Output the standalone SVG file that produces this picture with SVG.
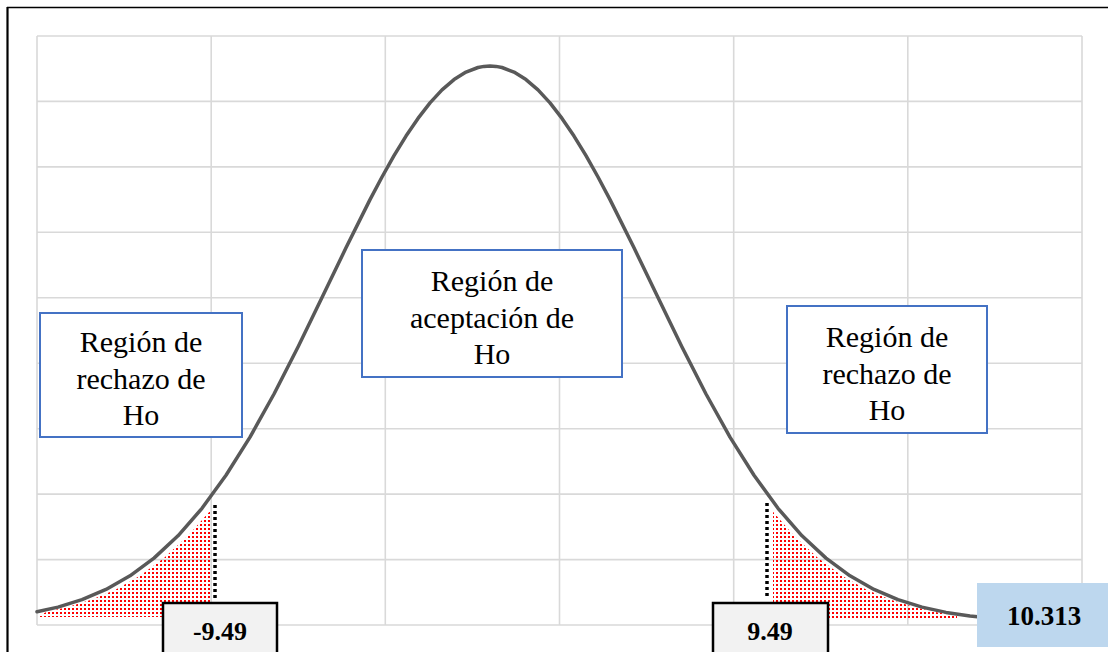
<svg xmlns="http://www.w3.org/2000/svg" width="1108" height="652" viewBox="0 0 1108 652">
<style>
.grid{stroke:#D9D9D9;stroke-width:1.6;fill:none}
.curve{stroke:#595959;stroke-width:3.5;fill:none;stroke-linejoin:round;stroke-linecap:round}
.vline{stroke:#000;stroke-width:3.5;stroke-dasharray:3 3;fill:none}
.tail{fill:url(#dots)}
.region{fill:#FFFFFF;stroke:#4472C4;stroke-width:2}
.crit{fill:#F2F2F2;stroke:#000;stroke-width:2.5}
.stat{fill:#BDD7EE}
.lbl{font-family:"Liberation Serif","Times New Roman",serif;font-size:30px;fill:#000;text-anchor:middle}
.num{font-family:"Liberation Serif","Times New Roman",serif;font-size:26px;font-weight:bold;fill:#000;text-anchor:middle}
</style>
<defs>
<pattern id="dots" width="4" height="4" patternUnits="userSpaceOnUse">
<rect x="0" y="0" width="2" height="2" fill="#FF0000"/>
</pattern>
</defs>
<rect x="0" y="0" width="1108" height="652" fill="#FFFFFF"/>
<g id="frame">
<line x1="7" y1="7.5" x2="1108" y2="7.5" stroke="#000" stroke-width="1.6"/>
<line x1="7.5" y1="7" x2="7.5" y2="652" stroke="#000" stroke-width="2.2"/>
</g>
<g id="grid" class="grid">
<line x1="37" y1="36" x2="1082" y2="36"/>
<line x1="37" y1="101.4" x2="1082" y2="101.4"/>
<line x1="37" y1="166.9" x2="1082" y2="166.9"/>
<line x1="37" y1="232.3" x2="1082" y2="232.3"/>
<line x1="37" y1="297.8" x2="1082" y2="297.8"/>
<line x1="37" y1="363.2" x2="1082" y2="363.2"/>
<line x1="37" y1="428.7" x2="1082" y2="428.7"/>
<line x1="37" y1="494.1" x2="1082" y2="494.1"/>
<line x1="37" y1="559.6" x2="1082" y2="559.6"/>
<line x1="37" y1="625" x2="1082" y2="625"/>
<line x1="37" y1="36" x2="37" y2="625"/>
<line x1="211.2" y1="36" x2="211.2" y2="625"/>
<line x1="385.3" y1="36" x2="385.3" y2="625"/>
<line x1="559.5" y1="36" x2="559.5" y2="625"/>
<line x1="733.7" y1="36" x2="733.7" y2="625"/>
<line x1="907.8" y1="36" x2="907.8" y2="625"/>
<line x1="1082" y1="36" x2="1082" y2="625"/>
</g>
<g id="connectors">
<polygon id="left-tail" class="tail" points="40,615 47,611.8 68,607 92,599.6 116,589.4 140,575.8 164,558 188,535.8 211,510 211,617 40,617"/>
<polygon id="right-tail" class="tail" points="773,511.7 794,535.8 818,558 842,575.8 866,589.4 890,599.6 914,607.1 938,612.4 957,615.5 957,618 773,618"/>
<line id="crit-left-line" class="vline" x1="215" y1="505" x2="215" y2="601"/>
<line id="crit-right-line" class="vline" x1="767" y1="503" x2="767" y2="599"/>
<polyline id="density-curve" class="curve" points="37,611.8 58,607.1 82,599.6 106,589.4 130,575.8 154,558.1 178,535.8 202,508.3 226,475.3 250,437.1 274,394 298,347 322,297.6 346,247.8 370,199.6 382,177 394,155.7 406,136.1 418,118.4 430,102.9 442,89.9 454,79.6 466,72.1 478,67.5 484,66.4 490,66 496,66.4 502,67.5 514,72.1 526,79.6 538,89.9 550,102.9 562,118.4 574,136.1 586,155.7 598,177 610,199.6 634,247.8 658,297.6 682,347 706,394 730,437.1 754,475.3 778,508.3 802,535.8 826,558.1 850,575.8 874,589.4 898,599.6 922,607.1 946,612.4 970,616.1 980,617"/>
</g>
<g id="node-left-region">
<rect class="region" x="40" y="313" width="202" height="124"/>
<text class="lbl" x="141" y="352">Región de</text>
<text class="lbl" x="141" y="389">rechazo de</text>
<text class="lbl" x="141" y="425">Ho</text>
</g>
<g id="node-center-region">
<rect class="region" x="362" y="250" width="260" height="127"/>
<text class="lbl" x="492" y="291">Región de</text>
<text class="lbl" x="492" y="328">aceptación de</text>
<text class="lbl" x="492" y="364">Ho</text>
</g>
<g id="node-right-region">
<rect class="region" x="787" y="306" width="200" height="127"/>
<text class="lbl" x="887" y="347">Región de</text>
<text class="lbl" x="887" y="384">rechazo de</text>
<text class="lbl" x="887" y="420">Ho</text>
</g>
<g id="node-crit-left">
<rect class="crit" x="163" y="603" width="114" height="60"/>
<text class="num" x="220" y="640">-9.49</text>
</g>
<g id="node-crit-right">
<rect class="crit" x="713" y="603" width="115" height="60"/>
<text class="num" x="770" y="640">9.49</text>
</g>
<g id="node-stat">
<rect class="stat" x="977" y="583" width="131" height="64"/>
<text class="num" x="1044" y="625" style="font-size:27px">10.313</text>
</g>
</svg>
